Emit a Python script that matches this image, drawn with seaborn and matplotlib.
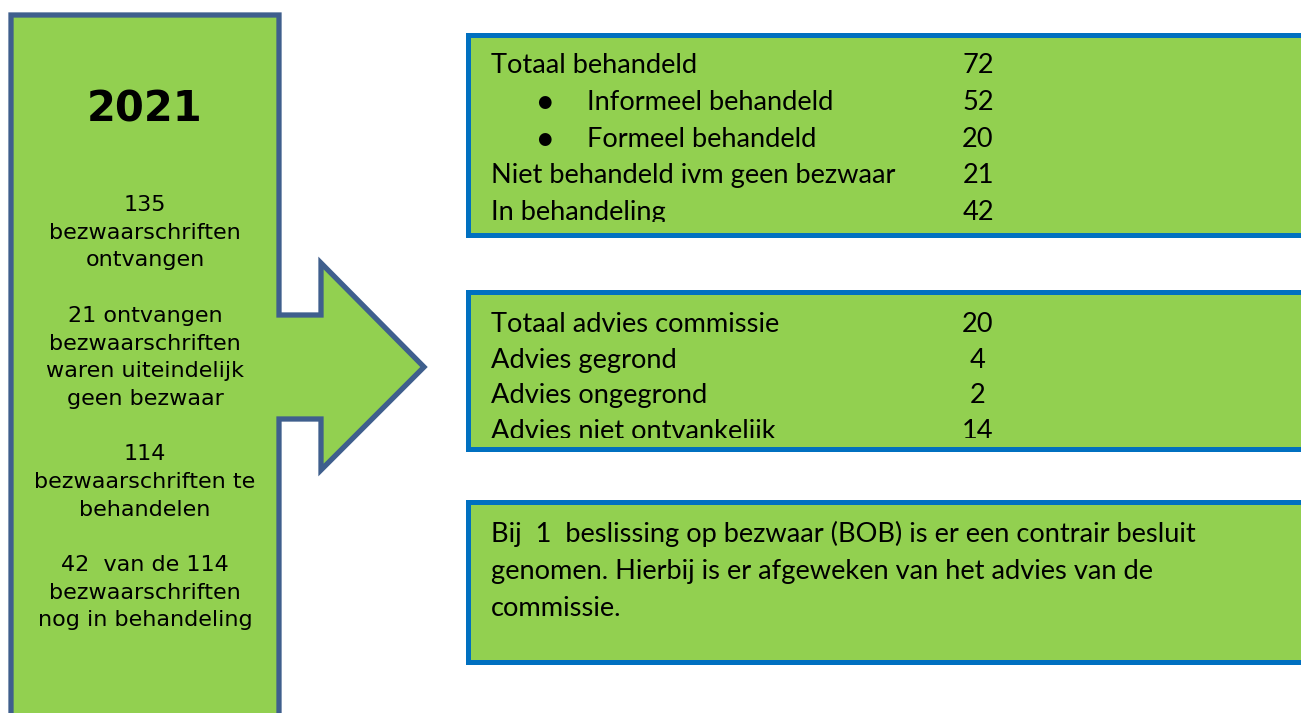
import matplotlib
matplotlib.use("Agg")
import matplotlib.pyplot as plt
import seaborn as sns
from matplotlib.patches import Polygon, Rectangle
from matplotlib.transforms import Bbox, TransformedBbox

# --- data ---
year = "2021"
left_lines = ["135", "bezwaarschriften", "ontvangen", "",
              "21 ontvangen", "bezwaarschriften", "waren uiteindelijk", "geen bezwaar", "",
              "114", "bezwaarschriften te", "behandelen", "",
              "42  van de 114", "bezwaarschriften", "nog in behandeling"]

box1_labels = ["Totaal behandeld", "Informeel behandeld", "Formeel behandeld",
               "Niet behandeld ivm geen bezwaar", "In behandeling"]
box1_values = [72, 52, 20, 21, 42]
box1_bullet = [False, True, True, False, False]

box2_labels = ["Totaal advies commissie", "Advies gegrond", "Advies ongegrond",
               "Advies niet ontvankelijk"]
box2_values = [20, 4, 2, 14]

note_lines = ["Bij  1  beslissing op bezwaar (BOB) is er een contrair besluit",
              "genomen. Hierbij is er afgeweken van het advies van de",
              "commissie."]

green = "#92D050"
shape_edge = "#3F5F8D"
box_edge = "#0070C0"
right_font = ["Lato", "DejaVu Sans"]
fs = 19.6

sns.set_theme(style="white")
plt.rcParams["font.family"] = ["DejaVu Sans"]
plt.rcParams["text.color"] = "black"

fig = plt.figure(figsize=(13.01, 7.13), dpi=100)
ax = fig.add_axes([0, 0, 1, 1])
ax.set_xlim(0, 1301)
ax.set_ylim(713, 0)
ax.axis("off")

# left column with arrow
outline = [(11, 15), (279, 15), (279, 315), (321, 315), (321, 263), (424, 367),
           (321, 470), (321, 419), (279, 419), (279, 730), (11, 730)]
ax.add_patch(Polygon(outline, closed=True, facecolor=green, edgecolor=shape_edge,
                     linewidth=3.8, joinstyle="miter"))

ax.text(145, 122, year, ha="center", va="baseline", fontsize=30, fontweight="bold",
        color="black")
for i, line in enumerate(left_lines):
    if line:
        ax.text(145, 211 + 27.7 * i, line, ha="center", va="baseline", fontsize=16,
                color="black")


def draw_box(top, bottom, clip_bottom):
    ax.add_patch(Rectangle((468, top), 900, bottom - top, facecolor=green,
                           edgecolor=box_edge, linewidth=3.6))
    return TransformedBbox(Bbox([[468, top], [1368, clip_bottom]]), ax.transData)


def put(x, y, s, clip, ha="left", size=fs):
    t = ax.text(x, y, s, ha=ha, va="baseline", fontsize=size, family=right_font,
                color="black")
    if clip is not None:
        t.set_clip_box(clip)
        t.set_clip_on(True)
    return t


# box 1
clip1 = draw_box(35, 235, 222)
for i, (lab, val, bul) in enumerate(zip(box1_labels, box1_values, box1_bullet)):
    y = 73 + 36.8 * i
    if bul:
        ax.text(544, y - 8, "\u25CF", ha="center", va="center", fontsize=12,
                family="DejaVu Sans", color="black")
        put(587, y, lab, clip1)
    else:
        put(491, y, lab, clip1)
    put(978, y, str(val), clip1, ha="center")

# box 2
clip2 = draw_box(292, 449, 438)
for i, (lab, val) in enumerate(zip(box2_labels, box2_values)):
    y = 332 + 35.7 * i
    put(491, y, lab, clip2)
    put(978, y, str(val), clip2, ha="center")

# box 3
draw_box(502, 662, 662)
for i, line in enumerate(note_lines):
    put(491, 542 + 37 * i, line, None)

fig.savefig("out.png", dpi=100)
